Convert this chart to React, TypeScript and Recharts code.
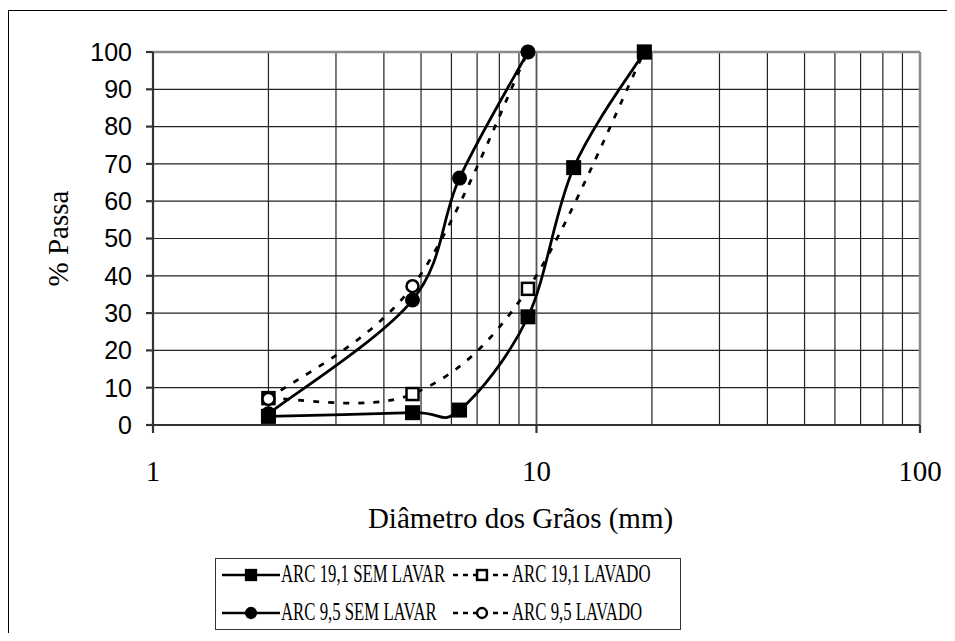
import React from "react"
import {
  CartesianGrid,
  Label,
  Legend,
  Line,
  LineChart,
  ReferenceLine,
  XAxis,
  YAxis,
} from "recharts"

// peneiras (mm) e % passante de cada ensaio
const diam191Sem = [2, 4.75, 6.3, 9.5, 12.5, 19.1]
const passa191Sem = [2.3, 3.3, 4, 29, 69, 100]

const diam191Lav = [2, 4.75, 9.5, 19.1]
const passa191Lav = [7.2, 8.3, 36.5, 100]

const diam95Sem = [2, 4.75, 6.3, 9.5]
const passa95Sem = [3, 33.5, 66.2, 100]

const diam95Lav = [2, 4.75, 9.5]
const passa95Lav = [7, 37.2, 100]

const xTicks = [1, 10, 100]
const xGrid = [2, 3, 4, 5, 6, 7, 8, 9, 10, 20, 30, 40, 50, 60, 70, 80, 90]
const yTicks = [0, 10, 20, 30, 40, 50, 60, 70, 80, 90, 100]

const toPoints = (xs: number[], ys: number[]) =>
  xs.map((d, i) => ({ d, p: ys[i] }))

// suavizacao estilo Excel (Catmull-Rom)
const excelSmooth = (context: any) => {
  let pts: number[][] = []
  return {
    areaStart() {},
    areaEnd() {},
    lineStart() {
      pts = []
    },
    point(x: number, y: number) {
      pts.push([+x, +y])
    },
    lineEnd() {
      const n = pts.length
      if (!n) return
      context.moveTo(pts[0][0], pts[0][1])
      for (let i = 0; i < n - 1; i++) {
        const p0 = pts[Math.max(i - 1, 0)]
        const p1 = pts[i]
        const p2 = pts[i + 1]
        const p3 = pts[Math.min(i + 2, n - 1)]
        context.bezierCurveTo(
          p1[0] + (p2[0] - p0[0]) / 6,
          p1[1] + (p2[1] - p0[1]) / 6,
          p2[0] - (p3[0] - p1[0]) / 6,
          p2[1] - (p3[1] - p1[1]) / 6,
          p2[0],
          p2[1]
        )
      }
    },
  }
}

type Shape = "square" | "circle"

function marker(shape: Shape, filled: boolean, cx: number, cy: number, scale = 1, key?: string) {
  if (shape === "square") {
    const s = (filled ? 15 : 12) * scale
    return (
      <rect
        key={key}
        x={cx - s / 2}
        y={cy - s / 2}
        width={s}
        height={s}
        fill={filled ? "#000" : "#fff"}
        stroke="#000"
        strokeWidth={filled ? 0 : 2.5}
      />
    )
  }
  const r = (filled ? 7.5 : 6) * scale
  return (
    <circle
      key={key}
      cx={cx}
      cy={cy}
      r={r}
      fill={filled ? "#000" : "#fff"}
      stroke="#000"
      strokeWidth={filled ? 0 : 2.5}
    />
  )
}

const series = [
  { name: "ARC 19,1 SEM LAVAR", data: toPoints(diam191Sem, passa191Sem), shape: "square" as Shape, filled: true, dashed: false },
  { name: "ARC 19,1 LAVADO", data: toPoints(diam191Lav, passa191Lav), shape: "square" as Shape, filled: false, dashed: true },
  { name: "ARC 9,5 SEM LAVAR", data: toPoints(diam95Sem, passa95Sem), shape: "circle" as Shape, filled: true, dashed: false },
  { name: "ARC 9,5 LAVADO", data: toPoints(diam95Lav, passa95Lav), shape: "circle" as Shape, filled: false, dashed: true },
]

// ordem de desenho: tracejadas por baixo
const drawOrder = [1, 3, 2, 0]

const serif = "'Liberation Serif', 'Times New Roman', serif"
const sans = "'Liberation Sans', Arial, sans-serif"

function LegendBox() {
  return (
    <div
      style={{
        position: "relative",
        width: 466,
        height: 72,
        boxSizing: "border-box",
        border: "1.5px solid #333",
        background: "#fff",
      }}
    >
      {series.map((s, i) => {
        const col = i % 2
        const row = Math.floor(i / 2)
        const left = col === 0 ? 6 : 237
        const top = row === 0 ? 16 : 54
        return (
          <div key={s.name} style={{ position: "absolute", left, top: top - 10, height: 20 }}>
            <svg width={58} height={20} style={{ position: "absolute", left: 0, top: 0 }}>
              <line
                x1={0}
                x2={58}
                y1={10}
                y2={10}
                stroke="#000"
                strokeWidth={2.5}
                strokeDasharray={s.dashed ? "5 5" : undefined}
              />
              {marker(s.shape, s.filled, 29, 10, 0.82)}
            </svg>
            <span
              style={{
                position: "absolute",
                left: 59,
                top: -5,
                fontFamily: serif,
                fontSize: 25,
                lineHeight: "28px",
                whiteSpace: "nowrap",
                transform: "scaleX(0.67)",
                transformOrigin: "left center",
                color: "#000",
              }}
            >
              {s.name}
            </span>
          </div>
        )
      })}
    </div>
  )
}

export default function App() {
  return (
    <div style={{ position: "relative", width: 939, height: 625, overflow: "hidden" }}>
      <div
        style={{
          position: "absolute",
          left: 0,
          top: 2,
          right: 0,
          bottom: 0,
          borderTop: "1.5px solid #000",
          borderLeft: "1.5px solid #000",
        }}
      />
      <div style={{ position: "absolute", left: 0, top: 0 }}>
        <LineChart width={939} height={625} margin={{ top: 44, right: 27, left: 0, bottom: 0 }}>
          <CartesianGrid horizontal vertical={false} stroke="#222" strokeWidth={1.2} />
          {xGrid.map((g) => (
            <ReferenceLine key={g} x={g} stroke={g === 10 ? "#555" : "#222"} strokeWidth={g === 10 ? 1.8 : 1.2} />
          ))}
          <ReferenceLine y={100} stroke="#8a8a8a" strokeWidth={2.5} />
          <ReferenceLine x={100} stroke="#8a8a8a" strokeWidth={2.5} />
          <XAxis
            dataKey="d"
            type="number"
            scale="log"
            domain={[1, 100]}
            ticks={xTicks}
            allowDataOverflow
            height={136}
            stroke="#333"
            strokeWidth={2.2}
            tickSize={8}
            tickMargin={27}
            tick={{ fill: "#000", fontFamily: serif, fontSize: 29 }}
          >
            <Label
              content={({ viewBox }: any) => (
                <text
                  x={viewBox.x + viewBox.width / 2 - 16}
                  y={viewBox.y + 103}
                  textAnchor="middle"
                  fontFamily={serif}
                  fontSize={29}
                  fill="#000"
                >
                  Diâmetro dos Grãos (mm)
                </text>
              )}
            />
          </XAxis>
          <YAxis
            type="number"
            domain={[0, 100]}
            ticks={yTicks}
            width={145}
            stroke="#333"
            strokeWidth={2.2}
            tickSize={7}
            tickMargin={14}
            tick={{ fill: "#000", fontFamily: sans, fontSize: 25 }}
          >
            <Label
              content={({ viewBox }: any) => {
                const cy = viewBox.y + viewBox.height / 2
                return (
                  <text
                    x={60}
                    y={cy}
                    transform={`rotate(-90, 60, ${cy})`}
                    textAnchor="middle"
                    fontFamily={serif}
                    fontSize={29}
                    fill="#000"
                  >
                    % Passa
                  </text>
                )
              }}
            />
          </YAxis>
          {drawOrder.map((idx) => {
            const s = series[idx]
            return (
              <Line
                key={s.name}
                name={s.name}
                data={s.data}
                dataKey="p"
                type={excelSmooth as any}
                stroke="#000"
                strokeWidth={2.75}
                strokeDasharray={s.dashed ? "6 9" : undefined}
                isAnimationActive={false}
                dot={(p: any) => marker(s.shape, s.filled, p.cx, p.cy, 1, `${s.name}-${p.index}`)}
                activeDot={false}
              />
            )
          })}
          <Legend
            verticalAlign="bottom"
            content={() => <LegendBox />}
            wrapperStyle={{ left: 207, top: 550, bottom: "auto", width: 466, height: 72 }}
          />
        </LineChart>
      </div>
    </div>
  )
}
